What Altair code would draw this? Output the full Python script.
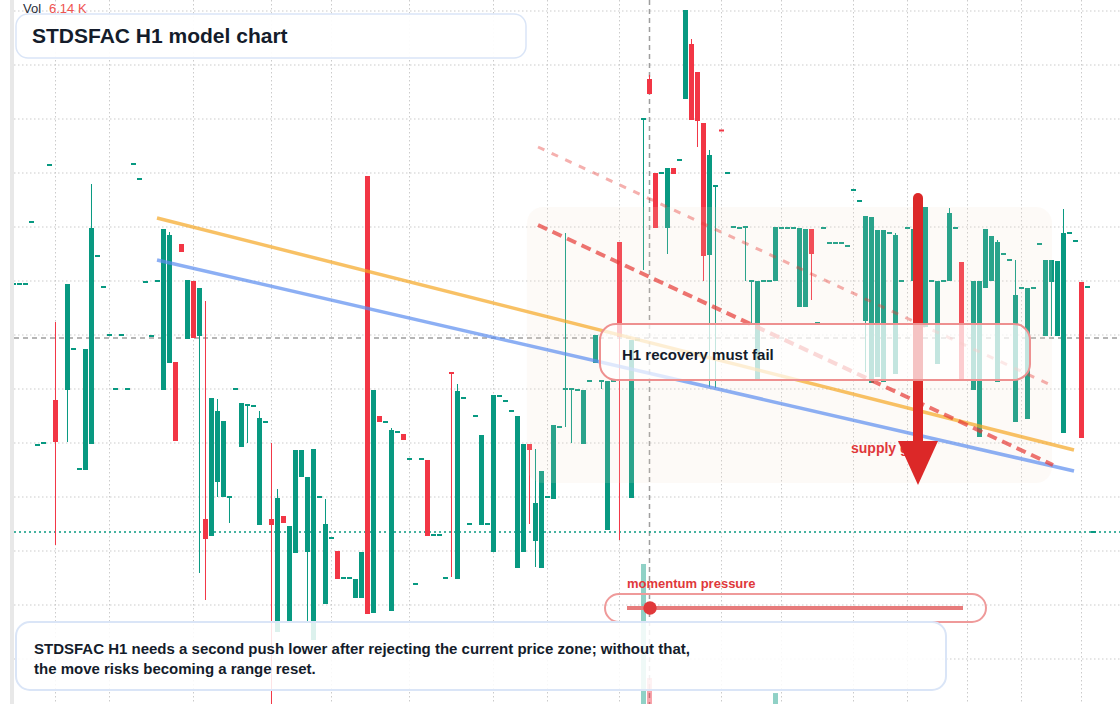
import altair as alt
import pandas as pd

# ---------------- data ----------------
candle_k = [
    2, 3, 4, 5, 6, 7, 8, 9, 11, 12,
    13, 14, 15, 16, 17, 18, 19, 20, 21, 22,
    23, 24, 25, 26, 27, 28, 29, 30, 31, 32,
    33, 34, 35, 36, 37, 38, 39, 40, 41, 42,
    43, 44, 45, 46, 47, 48, 49, 50, 51, 52,
    53, 54, 55, 56, 57, 58, 59, 60, 61, 62,
    63, 64, 65, 66, 67, 68, 69, 70, 71, 72,
    73, 74, 75, 76, 77, 78, 79, 80, 81, 82,
    83, 84, 85, 86, 87, 88, 89, 90, 91, 92,
    93, 94, 95, 96, 97, 98, 99, 100, 101, 102,
    103, 105, 106, 107, 108, 109, 110, 111, 112, 113,
    114, 115, 116, 117, 118, 119, 120, 121, 122, 123,
    124, 125, 126, 127, 128, 129, 130, 131, 132, 133,
    134, 135, 136, 137, 138, 139, 140, 141, 142, 143,
    144, 145, 146, 147, 148, 149, 150, 151, 152, 154,
    155, 156, 157, 158, 159, 160, 162, 163, 164, 165,
    166, 167, 168, 169, 170, 171, 172, 173, 174, 175,
    176, 177, 178, 179, 180, 181, 182,
]
candle_open = [
    14.20, 14.20, 14.20, 14.82, 12.59, 12.61, 15.39, 13.04, 13.14, 13.55,
    12.35, 12.34, 12.60, 14.48, 14.17, 13.69, 13.15, 13.69, 13.15, 15.40,
    15.25, 14.22, 13.68, 14.23, 13.14, 13.41, 13.42, 14.60, 13.65, 14.23,
    13.68, 11.85, 11.68, 12.22, 12.07, 12.07, 13.15, 12.57, 12.99, 12.98,
    11.79, 12.82, 11.85, 10.72, 11.88, 10.81, 11.51, 12.27, 11.52, 10.64,
    12.07, 11.00, 11.66, 11.53, 11.26, 11.26, 11.06, 11.06, 15.28, 10.91,
    12.88, 12.82, 10.93, 12.72, 12.70, 12.45, 11.20, 12.45, 12.44, 11.69,
    11.69, 11.26, 13.32, 11.25, 13.06, 11.80, 12.88, 11.79, 11.80, 11.52,
    13.08, 13.03, 12.93, 11.36, 11.52, 12.60, 11.63, 11.36, 12.07, 12.05,
    12.77, 13.15, 13.15, 13.14, 12.60, 13.23, 13.41, 13.23, 11.74, 13.23,
    14.62, 12.06, 13.64, 15.85, 16.25, 15.31, 15.31, 14.76, 15.36, 15.44,
    16.05, 16.60, 16.32, 15.81, 14.49, 15.18, 15.74, 15.31, 14.77, 14.76,
    14.77, 14.23, 13.24, 14.23, 14.23, 14.23, 14.76, 14.76, 14.76, 13.97,
    13.97, 14.75, 13.81, 14.76, 14.61, 14.61, 14.61, 14.58, 15.14, 15.03,
    13.83, 13.21, 13.27, 13.22, 14.71, 13.30, 14.23, 14.76, 14.23, 13.77,
    14.23, 13.40, 14.23, 14.23, 14.76, 14.42, 13.14, 12.67, 14.16, 14.23,
    13.22, 14.50, 14.44, 12.82, 14.16, 12.85, 14.16, 14.60, 13.68, 14.22,
    13.68, 12.71, 14.71, 14.63, 14.22, 14.17, 11.72,
]
candle_high = [
    14.20, 14.20, 14.20, 14.82, 12.59, 12.61, 15.39, 13.82, 14.20, 13.55,
    12.35, 13.55, 15.20, 14.48, 14.17, 13.69, 13.15, 13.69, 13.15, 15.40,
    15.25, 14.22, 13.68, 14.23, 14.75, 14.72, 13.42, 14.60, 14.24, 14.23,
    14.16, 14.03, 13.06, 13.05, 12.83, 12.07, 13.15, 13.01, 12.99, 12.98,
    12.93, 12.82, 12.61, 12.15, 11.88, 11.78, 12.54, 12.54, 12.27, 12.55,
    12.07, 12.05, 11.66, 11.53, 11.26, 11.26, 11.25, 11.52, 15.28, 13.14,
    12.88, 12.82, 12.76, 12.72, 12.70, 12.45, 11.20, 12.45, 12.44, 11.69,
    11.69, 11.26, 13.32, 13.20, 13.06, 11.80, 12.88, 12.69, 11.80, 13.09,
    13.08, 13.03, 12.93, 12.88, 12.60, 12.60, 12.55, 12.33, 12.07, 12.79,
    12.77, 14.71, 13.15, 13.14, 13.14, 13.23, 13.69, 13.23, 13.23, 13.23,
    14.62, 13.64, 13.64, 15.85, 16.29, 15.31, 15.31, 15.36, 15.36, 15.44,
    16.94, 16.65, 16.32, 15.81, 15.54, 15.18, 15.74, 15.31, 14.77, 14.76,
    14.77, 14.23, 14.23, 14.23, 14.23, 14.77, 14.76, 14.76, 14.76, 14.76,
    14.75, 14.75, 13.81, 14.76, 14.61, 14.61, 14.61, 14.58, 15.14, 15.03,
    14.88, 14.87, 14.74, 14.74, 14.71, 14.71, 14.23, 14.76, 14.75, 14.97,
    14.23, 14.23, 14.23, 14.96, 14.76, 14.42, 14.23, 14.23, 14.75, 14.68,
    14.64, 14.50, 14.44, 14.44, 14.16, 14.16, 14.16, 14.60, 14.44, 14.44,
    14.43, 14.95, 14.71, 14.63, 14.22, 14.17, 11.72,
]
candle_low = [
    14.20, 14.20, 14.20, 14.82, 12.59, 12.61, 15.39, 11.59, 12.62, 13.55,
    12.35, 12.34, 12.60, 14.48, 14.17, 13.69, 13.15, 13.69, 13.15, 15.40,
    15.25, 14.22, 13.68, 14.23, 13.14, 13.41, 12.63, 14.52, 13.65, 13.66,
    11.31, 11.04, 11.68, 12.07, 12.07, 11.81, 13.15, 12.57, 12.61, 12.98,
    11.79, 12.82, 9.88, 10.72, 11.81, 10.81, 11.51, 12.27, 10.82, 10.64,
    12.07, 11.00, 11.66, 11.25, 11.26, 11.26, 11.06, 11.06, 10.90, 10.91,
    12.82, 12.82, 10.93, 12.72, 12.64, 12.45, 11.20, 12.45, 11.68, 11.69,
    11.69, 11.26, 11.27, 11.25, 13.06, 11.80, 12.88, 11.79, 11.80, 11.52,
    13.08, 13.03, 12.93, 11.36, 11.52, 11.80, 11.37, 11.36, 12.07, 12.05,
    12.77, 12.77, 12.61, 13.14, 12.60, 13.23, 13.41, 13.15, 11.74, 13.23,
    11.64, 12.06, 13.64, 14.34, 16.10, 14.76, 15.31, 14.50, 15.30, 15.44,
    16.05, 15.84, 15.57, 14.23, 13.17, 13.16, 15.73, 15.31, 14.77, 14.76,
    14.23, 13.81, 13.24, 14.23, 14.23, 14.23, 14.76, 14.76, 14.76, 13.97,
    13.97, 14.04, 13.81, 14.76, 14.61, 14.61, 14.61, 14.58, 15.14, 15.03,
    13.32, 13.21, 13.27, 13.22, 14.71, 13.30, 14.23, 14.76, 14.23, 13.77,
    14.23, 13.40, 14.23, 14.23, 14.76, 13.25, 13.14, 12.67, 14.16, 14.23,
    13.22, 14.50, 14.44, 12.82, 14.16, 12.85, 14.16, 14.60, 13.68, 13.68,
    13.68, 12.71, 14.71, 14.63, 12.66, 14.17, 11.72,
]
candle_close = [
    14.20, 14.20, 14.20, 14.82, 12.59, 12.61, 15.39, 12.62, 14.20, 13.55,
    12.35, 13.55, 14.76, 14.48, 14.17, 13.69, 13.15, 13.69, 13.15, 15.40,
    15.25, 14.22, 13.68, 14.23, 14.75, 14.69, 12.63, 14.52, 14.24, 13.66,
    14.16, 11.65, 13.06, 12.93, 12.83, 12.07, 13.15, 13.01, 12.99, 12.98,
    12.86, 12.82, 11.79, 12.06, 11.81, 11.78, 12.54, 12.54, 12.27, 12.55,
    12.07, 11.80, 11.66, 11.25, 11.26, 11.26, 11.25, 11.52, 10.90, 13.14,
    12.82, 12.82, 12.74, 12.72, 12.64, 12.45, 11.20, 12.45, 11.68, 11.69,
    11.69, 11.26, 13.30, 13.13, 13.06, 11.80, 12.88, 12.69, 11.80, 13.09,
    13.08, 13.03, 12.93, 12.88, 12.60, 12.54, 12.01, 12.33, 12.07, 12.79,
    12.77, 13.15, 13.15, 13.14, 13.14, 13.23, 13.69, 13.23, 13.23, 13.23,
    13.67, 13.64, 13.64, 15.85, 16.10, 14.76, 15.31, 15.36, 15.30, 15.44,
    16.94, 15.84, 15.83, 14.48, 15.49, 15.18, 15.73, 15.31, 14.77, 14.76,
    14.77, 14.23, 14.23, 14.23, 14.23, 14.77, 14.76, 14.76, 14.76, 14.76,
    14.75, 14.50, 13.81, 14.76, 14.61, 14.61, 14.61, 14.58, 15.14, 15.03,
    14.88, 14.87, 14.74, 14.74, 14.71, 14.69, 14.23, 14.76, 14.75, 14.97,
    14.23, 14.23, 14.23, 14.91, 14.76, 13.25, 14.23, 14.23, 14.75, 14.68,
    14.62, 14.50, 14.44, 14.09, 14.16, 14.16, 14.16, 14.60, 14.44, 14.44,
    14.43, 14.71, 14.71, 14.63, 12.66, 14.17, 11.72,
]

volume_k = [107, 108, 129]
volume_k_units = [6.14, 1.14, 0.48]  # thousands
volume_dir = ["up", "down", "up"]

grid_k = [9, 18, 32, 45, 55, 68, 82, 91, 103, 120, 130, 142, 151, 161, 170, 180]
grid_price = [16.93, 16.39, 15.85, 15.31, 14.77, 14.23, 13.69, 13.15,
              12.61, 12.07, 11.53, 10.99, 10.45]

crosshair_k = [108]
crosshair_price = [13.66]
last_price = [11.72]

line_id = ["orange", "blue", "red_main", "red_faint"]
line_k0 = [25.92, 25.92, 89.42, 89.42]
line_p0 = [14.86, 14.44, 14.79, 15.57]
line_k1 = [178.75, 178.75, 175.25, 175.25]
line_p1 = [12.54, 12.33, 12.39, 13.18]

zone_k = [87.58, 175.08]
zone_p = [14.97, 12.21]

arrow_k = [152.75]
arrow_p = [15.06, 12.62]
arrow_head_p = [12.41]

title_text = "STDSFAC H1 model chart"
note_lines = [
    "STDSFAC H1 needs a second push lower after rejecting the current price zone; without that,",
    "the move risks becoming a range reset.",
]
callout_text = "H1 recovery must fail"
gauge_text = "momentum pressure"
zone_text = "supply gate"
vol_label = "Vol"
vol_value = "6.14 K"

# ---------------- styling ----------------
W, H = 1120, 704
FONT = "Liberation Sans"
INK = "#141c2b"
UP = "#089981"
DOWN = "#f23645"

xs = alt.Scale(domain=[-0.25, 186.4167], nice=False, zero=False, padding=0)
ys = alt.Scale(domain=[10.0, 17.04], nice=False, zero=False, padding=0)
col = alt.Color("dir:N", scale=alt.Scale(domain=["up", "down"], range=[UP, DOWN]), legend=None)


def X(f):
    return alt.X(f, scale=xs, axis=None)


def Y(f):
    return alt.Y(f, scale=ys, axis=None)


cdf = pd.DataFrame({"k": candle_k, "open": candle_open, "high": candle_high,
                    "low": candle_low, "close": candle_close})
cdf["dir"] = ["up" if c >= o else "down" for o, c in zip(candle_open, candle_close)]
mid = (cdf["open"] + cdf["close"]) / 2
thin = (cdf["open"] - cdf["close"]).abs() < 0.02
cdf["btop"] = cdf[["open", "close"]].max(axis=1)
cdf["bbot"] = cdf[["open", "close"]].min(axis=1)
cdf.loc[thin, "btop"] = mid[thin] + 0.01
cdf.loc[thin, "bbot"] = mid[thin] - 0.01

vdf = pd.DataFrame({"k": volume_k, "vol": volume_k_units, "dir": volume_dir})
ldf = pd.DataFrame({"line": line_id, "k0": line_k0, "p0": line_p0, "k1": line_k1, "p1": line_p1})
one = pd.DataFrame({"_": [0]})


def box(x0, x1, y0, y1, **kw):
    return alt.Chart(one).mark_rect(**kw).encode(
        x=alt.value(x0), x2=alt.value(x1), y=alt.value(y0), y2=alt.value(y1))


def label(x, y, text, **kw):
    return alt.Chart(one).mark_text(text=text, align="left", baseline="middle", font=FONT, **kw).encode(
        x=alt.value(x), y=alt.value(y))


grid_v = alt.Chart(pd.DataFrame({"k": grid_k})).mark_rule(
    color="#cbcbcb", strokeWidth=1, strokeDash=[1.5, 2.5]).encode(
    x=X("k:Q"), y=alt.value(0), y2=alt.value(H))
grid_h = alt.Chart(pd.DataFrame({"p": grid_price})).mark_rule(
    color="#cbcbcb", strokeWidth=1, strokeDash=[1.5, 2.5]).encode(
    y=Y("p:Q"), x=alt.value(14), x2=alt.value(W))

cross_v = alt.Chart(pd.DataFrame({"k": crosshair_k})).mark_rule(
    color="#9e9e9e", strokeWidth=1.5, strokeDash=[5, 4]).encode(
    x=X("k:Q"), y=alt.value(0), y2=alt.value(H))
cross_h = alt.Chart(pd.DataFrame({"p": crosshair_price})).mark_rule(
    color="#9e9e9e", strokeWidth=1.5, strokeDash=[5, 4]).encode(
    y=Y("p:Q"), x=alt.value(14), x2=alt.value(W))
last_line = alt.Chart(pd.DataFrame({"p": last_price})).mark_rule(
    color=UP, strokeWidth=1.5, strokeDash=[2, 3]).encode(
    y=Y("p:Q"), x=alt.value(14), x2=alt.value(W))

vol = alt.Chart(vdf).transform_calculate(
    vtop="10 + datum.vol * 0.228", vbase="10").mark_bar(size=5, opacity=0.45).encode(
    x=X("k:Q"), y=Y("vtop:Q"), y2="vbase:Q", color=col)

wicks = alt.Chart(cdf).mark_rule(strokeWidth=1, clip=True).encode(
    x=X("k:Q"), y=Y("high:Q"), y2="low:Q", color=col)
bodies = alt.Chart(cdf).mark_bar(size=5, clip=True).encode(
    x=X("k:Q"), y=Y("btop:Q"), y2="bbot:Q", color=col)

zone = alt.Chart(pd.DataFrame({"k0": [zone_k[0]], "k1": [zone_k[1]],
                               "p0": [zone_p[0]], "p1": [zone_p[1]]})).mark_rect(
    cornerRadius=16, fill="#efdcc8", fillOpacity=0.15, strokeWidth=0).encode(
    x=X("k0:Q"), x2="k1:Q", y=Y("p0:Q"), y2="p1:Q")


def trend(name, **kw):
    return alt.Chart(ldf).transform_filter(alt.datum.line == name).mark_rule(**kw).encode(
        x=X("k0:Q"), x2="k1:Q", y=Y("p0:Q"), y2="p1:Q")


orange = trend("orange", color="#f5a623", opacity=0.7, strokeWidth=3.5)
blue = trend("blue", color="#5b8def", opacity=0.7, strokeWidth=3.5)
red_main = trend("red_main", color="#e53935", opacity=0.7, strokeWidth=4, strokeDash=[10, 6])
red_faint = trend("red_faint", color="#e53935", opacity=0.4, strokeWidth=3, strokeDash=[7, 8])

supply = label(851, 448.5, zone_text, fontSize=14, fontWeight="bold", color="#e0383b")

shaft = alt.Chart(pd.DataFrame({"k": arrow_k, "p0": [arrow_p[0]], "p1": [arrow_p[1]]})).mark_rule(
    color="#dc2828", strokeWidth=10, strokeCap="round").encode(
    x=X("k:Q"), y=Y("p0:Q"), y2="p1:Q")
head = alt.Chart(pd.DataFrame({"k": arrow_k, "p": arrow_head_p})).mark_point(
    shape="M-1,-1.1L1,-1.1L0,1.1Z", size=1600, filled=True, color="#dc2828",
    opacity=1, strokeWidth=0).encode(x=X("k:Q"), y=Y("p:Q"))

callout_box = box(600, 1030, 324, 380, cornerRadius=16, fill="white", fillOpacity=0.72,
                  stroke="#ee9090", strokeWidth=2)
callout = label(622, 354.5, callout_text, fontSize=15, fontWeight="bold", color=INK)

gauge_label = label(627, 584, gauge_text, fontSize=13, fontWeight="bold", color="#e0383b")
gauge_box = box(605, 986, 594, 622, cornerRadius=14, fill="white", fillOpacity=0,
                stroke="#ef9a9a", strokeWidth=2)
gauge_line = alt.Chart(one).mark_rule(color="#e77b7b", strokeWidth=4).encode(
    x=alt.value(627), x2=alt.value(963), y=alt.value(608))
gauge_dot = alt.Chart(one).mark_point(shape="circle", size=180, filled=True, color="#e0393b",
                                      opacity=1, strokeWidth=0).encode(
    x=alt.value(650), y=alt.value(608))

note_box = box(16, 946, 622, 690, cornerRadius=14, fill="white", fillOpacity=0.86,
               stroke="#dae5f7", strokeWidth=2)
note1 = label(34, 648.8, note_lines[0], fontSize=15, fontWeight="bold", color=INK)
note2 = label(34, 668.8, note_lines[1], fontSize=15, fontWeight="bold", color=INK)

title_box = box(16, 526, 14, 58, cornerRadius=12, fill="white", fillOpacity=0.93,
                stroke="#dae5f7", strokeWidth=1.5)
title = label(32, 37, title_text, fontSize=21, fontWeight="bold", color=INK)

vol_l = label(23, 8.5, vol_label, fontSize=13, color="#2a2e39")
vol_v = label(49, 8.5, vol_value, fontSize=13, color="#ef5350")

edge_white = box(0, 10, 0, H, fill="white", strokeWidth=0)
edge_gray = box(10, 14, 0, H, fill="#e8e8e8", strokeWidth=0)

chart = alt.layer(
    grid_h, grid_v, cross_v, cross_h, last_line,
    vol, wicks, bodies, zone,
    orange, blue, red_faint, red_main,
    supply, shaft, head,
    callout_box, callout,
    gauge_label, gauge_box, gauge_line, gauge_dot,
    note_box, note1, note2,
    title_box, title, vol_l, vol_v,
    edge_white, edge_gray,
).properties(
    width=W, height=H, padding=0, autosize="none", background="white"
).configure_view(stroke=None)

chart.save("out.html", embed_options={"renderer": "svg", "actions": False})
